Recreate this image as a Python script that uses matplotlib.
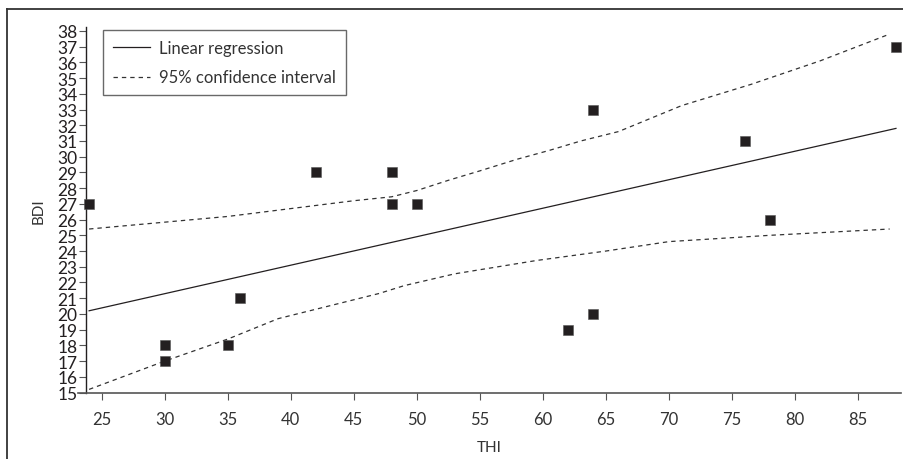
import matplotlib
matplotlib.use("Agg")
import matplotlib.pyplot as plt
from matplotlib.lines import Line2D

plt.rcParams['font.family'] = ['Lato', 'DejaVu Sans']

# Data
thi = [24, 30, 30, 35, 36, 42, 48, 48, 50, 62, 64, 64, 76, 78, 88]
bdi = [27, 18, 17, 18, 21, 29, 29, 27, 27, 19, 20, 33, 31, 26, 37]

reg_x = [24, 88]
reg_y = [20.2, 31.8]

ci_up_x = [24, 35, 45, 48, 50, 52.5, 55, 58, 60.5, 63, 66, 71, 76.5, 82, 87.5]
ci_up_y = [25.4, 26.2, 27.2, 27.45, 27.85, 28.5, 29.1, 29.85, 30.4, 31.0, 31.6, 33.25, 34.6, 36.1, 37.8]

ci_lo_x = [24, 30, 35, 39, 47, 49, 53, 59.5, 65, 70, 78, 87.5]
ci_lo_y = [15.2, 17.0, 18.4, 19.7, 21.3, 21.8, 22.55, 23.4, 24.0, 24.6, 25.0, 25.4]

x_ticks = list(range(25, 90, 5))
y_ticks = list(range(15, 39))

W, H = 904, 460
fig = plt.figure(figsize=(W / 100, H / 100), dpi=100)
ax = fig.add_axes([78 / W, 1 - 394 / H, (901 - 78) / W, (394 - 28) / H])

ink = '#231f20'
ax.plot(reg_x, reg_y, color=ink, lw=0.9, label='Linear regression', zorder=2)
ax.plot(ci_up_x, ci_up_y, color='#333333', lw=0.9, linestyle=(0, (3.5, 3.2)),
        label='95% confidence interval', zorder=2)
ax.plot(ci_lo_x, ci_lo_y, color='#333333', lw=0.9, linestyle=(0, (3.5, 3.2)), zorder=2)
ax.plot(thi, bdi, linestyle='none', marker='s', markersize=7.4, color=ink,
        markeredgecolor='#555555', markeredgewidth=0.4, zorder=3, clip_on=False)

ax.set_xlim(23.12, 88.4)
ax.set_ylim(14.97, 38.25)
ax.spines['top'].set_visible(False)
ax.spines['right'].set_visible(False)
ax.spines['left'].set_position(('data', 23.73))
ax.spines['left'].set_color(ink)
ax.spines['left'].set_linewidth(1.0)
ax.spines['bottom'].set_color('#555555')
ax.spines['bottom'].set_linewidth(1.2)

ax.set_xticks(x_ticks)
ax.set_yticks(y_ticks)
ax.tick_params(axis='y', length=5, width=0.8, color='#555555', labelsize=12.5,
               labelcolor=ink, pad=1)
ax.tick_params(axis='x', length=5, width=0.8, color='#555555', labelsize=12,
               labelcolor='#333333', pad=8)

ax.set_xlabel('THI', fontsize=11, color='#333333', labelpad=9)
ax.set_ylabel('BDI', fontsize=11, color='#333333', labelpad=8)

leg = ax.legend(loc='upper left', bbox_to_anchor=(103 / W, 1 - 31 / H),
                bbox_transform=fig.transFigure, frameon=True, fancybox=False,
                fontsize=12, handlelength=2.2, handletextpad=0.55,
                borderpad=0.6, labelspacing=0.8, borderaxespad=0)
leg.get_frame().set_edgecolor('#444444')
leg.get_frame().set_linewidth(1.0)
for t in leg.get_texts():
    t.set_color('#333333')

# Outer frame (left and top edges visible)
fig.add_artist(Line2D([7 / W, 7 / W], [0, 1 - 10 / H], transform=fig.transFigure,
                      color='#333333', lw=1.3))
fig.add_artist(Line2D([7 / W, 1], [1 - 10 / H, 1 - 10 / H], transform=fig.transFigure,
                      color='#333333', lw=1.3))

fig.savefig('out.png', dpi=100)
